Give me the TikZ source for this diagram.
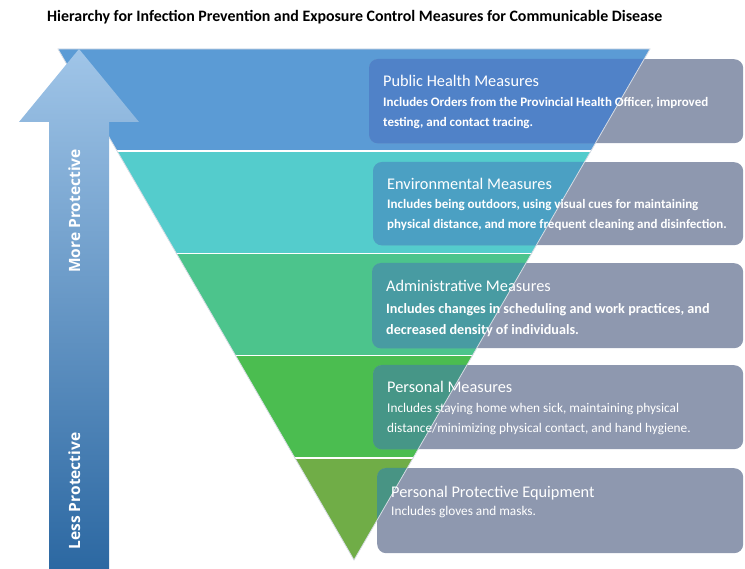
\documentclass[tikz,border=0pt]{standalone}
\usepackage{fontspec}
\setmainfont{Carlito}
\newfontfamily\arrowfont{Open Sans}
\usetikzlibrary{calc}

\definecolor{bandA}{RGB}{91,155,213}
\definecolor{bandB}{RGB}{84,204,204}
\definecolor{bandC}{RGB}{76,196,140}
\definecolor{bandD}{RGB}{75,189,80}
\definecolor{bandE}{RGB}{112,173,71}
\definecolor{boxgray}{RGB}{142,152,175}
\definecolor{overA}{RGB}{80,130,200}
\definecolor{overB}{RGB}{75,160,195}
\definecolor{overC}{RGB}{72,155,162}
\definecolor{overD}{RGB}{70,150,135}
\definecolor{overE}{RGB}{72,148,132}
\definecolor{arrowtop}{RGB}{160,197,232}
\definecolor{arrowmid}{RGB}{100,160,215}
\definecolor{arrowbot}{RGB}{44,104,162}
\definecolor{edgegray}{RGB}{215,220,228}

\begin{document}
\begin{tikzpicture}[x=1pt, y=-1pt,
    infobox/.style={rectangle, rounded corners=9pt, fill=boxgray, anchor=north west, inner sep=0pt},
    headtext/.style={anchor=base west, text=white, inner sep=0pt, font=\fontsize{16.3}{18}\selectfont},
    bodytext/.style={anchor=base west, text=white, inner sep=0pt, align=left, font=\fontsize{13}{20}\selectfont\bfseries},
    widetext/.style={bodytext, font=\fontsize{14.2}{21}\selectfont\bfseries},
    lighttext/.style={bodytext, font=\fontsize{13.3}{19.5}\selectfont},
    sidetext/.style={rotate=90, anchor=base, text=white, inner sep=0pt, font=\arrowfont\bfseries\fontsize{15.5}{17}\selectfont}]
  \useasboundingbox (0,0) rectangle (745,569);

  \node[anchor=base west, inner sep=0pt, font=\fontsize{15.9}{18}\selectfont\bfseries] (title) at (47,22)
    {Hierarchy for Infection Prevention and Exposure Control Measures for Communicable Disease};

  % the funnel
  \coordinate (tl) at (58,49);
  \coordinate (tr) at (650,49);
  \coordinate (apex) at (354,560);
  \foreach \col [count=\i from 0] in {bandA,bandB,bandC,bandD,bandE} {
    \pgfmathsetmacro{\j}{\i+1}
    \fill[\col] ($(tl)!\i/5!(apex)$) -- ($(tr)!\i/5!(apex)$) -- ($(tr)!\j/5!(apex)$) -- ($(tl)!\j/5!(apex)$) -- cycle;
  }

  % boxes
  \node[infobox, minimum width=374, minimum height=84] (box_ph) at (369,59) {};
  \node[infobox, minimum width=370, minimum height=83] (box_env) at (373,162) {};
  \node[infobox, minimum width=371, minimum height=85] (box_adm) at (372,263) {};
  \node[infobox, minimum width=370, minimum height=84] (box_pers) at (373,365) {};
  \node[infobox, minimum width=366, minimum height=85] (box_ppe) at (377,468) {};
  \begin{scope}
    \clip (tl) -- (tr) -- (apex) -- cycle;
    \fill[overA, rounded corners=9pt] (box_ph.north west) rectangle (box_ph.south east);
    \fill[overB, rounded corners=9pt] (box_env.north west) rectangle (box_env.south east);
    \fill[overC, rounded corners=9pt] (box_adm.north west) rectangle (box_adm.south east);
    \fill[overD, rounded corners=9pt] (box_pers.north west) rectangle (box_pers.south east);
    \fill[overE, rounded corners=9pt] (box_ppe.north west) rectangle (box_ppe.south east);
  \end{scope}

  \foreach \k in {1,...,4}
    \draw[white, line width=1.6pt] ($(tl)!\k/5!(apex)$) -- ($(tr)!\k/5!(apex)$);
  \draw[edgegray, line width=0.8pt] (tl) -- (tr) -- (apex) -- cycle;

  % arrow
  \shade[top color=arrowtop, middle color=arrowmid, bottom color=arrowbot]
    (49,569) -- (49,122) -- (19,122) -- (79,49) -- (139,122) -- (109,122) -- (109,569) -- cycle;
  \node[sidetext] (more) at (80,211) {More Protective};
  \node[sidetext] (less) at (80,491) {Less Protective};

  % texts (body nodes sit on their last line)
  \node[headtext] (ph_head) at ($(box_ph.north west)+(14,28)$) {Public Health Measures};
  \node[bodytext] (ph_body) at ($(box_ph.north west)+(14,68)$)
    {Includes Orders from the Provincial Health Officer, improved\\testing, and contact tracing.};
  \node[headtext] (env_head) at ($(box_env.north west)+(14,28)$) {Environmental Measures};
  \node[bodytext] (env_body) at ($(box_env.north west)+(14,67)$)
    {Includes being outdoors, using visual cues for maintaining\\physical distance, and more frequent cleaning and disinfection.};
  \node[headtext] (adm_head) at ($(box_adm.north west)+(14,29)$) {Administrative Measures};
  \node[widetext] (adm_body) at ($(box_adm.north west)+(14,72)$)
    {Includes changes in scheduling and work practices, and\\decreased density of individuals.};
  \node[headtext] (pers_head) at ($(box_pers.north west)+(14,28)$) {Personal Measures};
  \node[lighttext] (pers_body) at ($(box_pers.north west)+(14,67)$)
    {Includes staying home when sick, maintaining physical\\distance/minimizing physical contact, and hand hygiene.};
  \node[headtext] (ppe_head) at ($(box_ppe.north west)+(14,29)$) {Personal Protective Equipment};
  \node[lighttext] (ppe_body) at ($(box_ppe.north west)+(14,47)$) {Includes gloves and masks.};
\end{tikzpicture}
\end{document}
